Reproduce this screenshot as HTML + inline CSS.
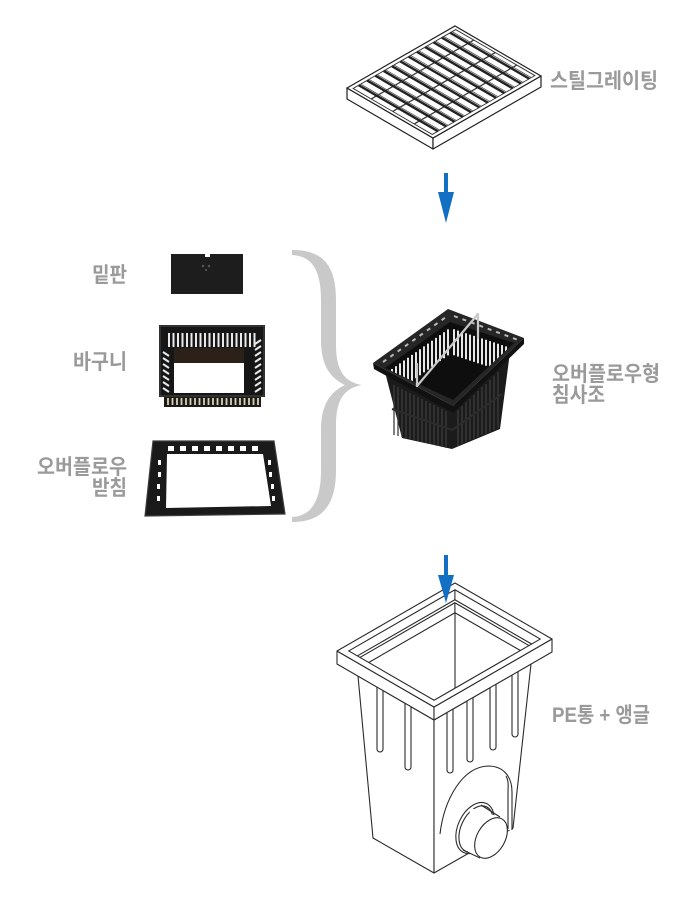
<!DOCTYPE html>
<html><head><meta charset="utf-8"><style>
html,body{margin:0;padding:0;background:#fff;}
svg{display:block;}
text{font-family:"Liberation Sans","Noto Sans CJK KR",sans-serif;font-weight:bold;fill:#9a9a9a;font-size:21px;}
.ns *{vector-effect:non-scaling-stroke;}
</style></head><body>
<svg width="700" height="900" viewBox="0 0 700 900" xmlns="http://www.w3.org/2000/svg">
<rect width="700" height="900" fill="#fff"/>

<!-- ===== Steel grating ===== -->
<g stroke="#222" stroke-width="1.2" fill="#fff" stroke-linejoin="round">
  <polygon points="347,88 433,138 433,149 347,99"/>
  <polygon points="433,138 541,76 541,87 433,149"/>
</g>
<g class="ns" transform="matrix(1.08,-0.62,0.86,0.5,347,88)" fill="none" stroke-linecap="butt">
  <rect x="0" y="0" width="100" height="100" fill="#fff" stroke="#222" stroke-width="1.2"/>
  <rect x="2.5" y="4" width="95" height="92" stroke="#333" stroke-width="0.9"/>
  <g stroke="#333" stroke-width="1.2">
    <line x1="2.5" y1="25" x2="97.5" y2="25"/>
    <line x1="2.5" y1="50" x2="97.5" y2="50"/>
    <line x1="2.5" y1="75" x2="97.5" y2="75"/>
  </g>
  <g stroke="#222" stroke-width="2.4">
    <line x1="7.69" y1="4" x2="7.69" y2="96"/>
    <line x1="15.38" y1="4" x2="15.38" y2="96"/>
    <line x1="23.08" y1="4" x2="23.08" y2="96"/>
    <line x1="30.77" y1="4" x2="30.77" y2="96"/>
    <line x1="38.46" y1="4" x2="38.46" y2="96"/>
    <line x1="46.15" y1="4" x2="46.15" y2="96"/>
    <line x1="53.85" y1="4" x2="53.85" y2="96"/>
    <line x1="61.54" y1="4" x2="61.54" y2="96"/>
    <line x1="69.23" y1="4" x2="69.23" y2="96"/>
    <line x1="76.92" y1="4" x2="76.92" y2="96"/>
    <line x1="84.62" y1="4" x2="84.62" y2="96"/>
    <line x1="92.31" y1="4" x2="92.31" y2="96"/>
  </g>
  <g stroke="#555" stroke-width="0.8">
    <line x1="9.5" y1="4" x2="9.5" y2="96"/>
    <line x1="17.2" y1="4" x2="17.2" y2="96"/>
    <line x1="24.9" y1="4" x2="24.9" y2="96"/>
    <line x1="32.6" y1="4" x2="32.6" y2="96"/>
    <line x1="40.3" y1="4" x2="40.3" y2="96"/>
    <line x1="48" y1="4" x2="48" y2="96"/>
    <line x1="55.7" y1="4" x2="55.7" y2="96"/>
    <line x1="63.4" y1="4" x2="63.4" y2="96"/>
    <line x1="71.1" y1="4" x2="71.1" y2="96"/>
    <line x1="78.8" y1="4" x2="78.8" y2="96"/>
    <line x1="86.5" y1="4" x2="86.5" y2="96"/>
    <line x1="94.2" y1="4" x2="94.2" y2="96"/>
  </g>
</g>
<text x="550" y="88" textLength="108" lengthAdjust="spacingAndGlyphs">스틸그레이팅</text>

<!-- arrow 1 -->
<rect x="444" y="173" width="4" height="20" fill="#1170c4"/>
<polygon points="438,192 454,192 446,223" fill="#1170c4"/>

<!-- ===== Left parts ===== -->
<text x="92" y="282" textLength="35" lengthAdjust="spacingAndGlyphs">밑판</text>
<text x="73" y="369" textLength="54" lengthAdjust="spacingAndGlyphs">바구니</text>
<text x="37" y="474" textLength="90" lengthAdjust="spacingAndGlyphs">오버플로우</text>
<text x="92" y="495" textLength="35" lengthAdjust="spacingAndGlyphs">받침</text>

<!-- bottom plate -->
<rect x="171" y="254" width="72" height="40" fill="#1d1d1d"/>
<rect x="205" y="254" width="5" height="3" fill="#fff"/>
<circle cx="203" cy="266" r="1.3" fill="#555"/>
<circle cx="209" cy="266" r="1.3" fill="#555"/>
<circle cx="206" cy="270" r="1.1" fill="#555"/>

<!-- basket -->
<rect x="159" y="325" width="106" height="72" fill="#161616"/>
<rect x="160" y="326" width="104" height="70" fill="none" stroke="#3a3a3a" stroke-width="1.5"/>
<rect x="174" y="348" width="70" height="15" fill="#2b2118"/>
<g stroke="#e9e9e9" stroke-width="2">
  <path d="M169,333v14M173.5,333v14M178,333v14M182.5,333v14M187,333v14M191.5,333v14M196,333v14M200.5,333v14M205,333v14M209.5,333v14M214,333v14M218.5,333v14M223,333v14M227.5,333v14M232,333v14M236.5,333v14M241,333v14M245.5,333v14M250,333v14M254.5,333v14"/>
  <path d="M163,352l6,4M163,358l6,4M163,364l6,4M163,370l6,4M163,376l6,4M163,382l6,4M163,388l6,4"/>
  <path d="M255,344l6,-4M255,350l6,-4M255,356l6,-4M255,362l6,-4M255,368l6,-4M255,374l6,-4M255,380l6,-4M255,386l6,-4M255,392l6,-4"/>
</g>
<rect x="174" y="363" width="70" height="30" fill="#fff"/>
<rect x="164" y="397" width="97" height="10" fill="#1e1a14"/>
<g stroke="#d8cfc0" stroke-width="1.8">
  <path d="M168,398v7M172.5,398v7M177,398v7M181.5,398v7M186,398v7M190.5,398v7M195,398v7M199.5,398v7M204,398v7M208.5,398v7M213,398v7M217.5,398v7M222,398v7M226.5,398v7M231,398v7M235.5,398v7M240,398v7M244.5,398v7M249,398v7M253.5,398v7M258,398v7"/>
</g>

<!-- overflow tray -->
<polygon points="153,441 274,441 285,514 145,516" fill="#1a1a1a"/>
<polygon points="153,441 274,441 285,514 145,516" fill="none" stroke="#3c3c3c" stroke-width="1.2"/>
<polygon points="167,454 263,454 271,506 166,508" fill="#fff"/>
<g fill="#fff">
  <rect x="168" y="446" width="6" height="5"/><rect x="180" y="446" width="6" height="5"/>
  <rect x="192" y="446" width="6" height="5"/><rect x="204" y="446" width="6" height="5"/>
  <rect x="216" y="446" width="6" height="5"/><rect x="228" y="446" width="6" height="5"/>
  <rect x="240" y="446" width="6" height="5"/><rect x="252" y="446" width="6" height="5"/>
  <rect x="158" y="460" width="3" height="5"/><rect x="158" y="472" width="3" height="5"/>
  <rect x="157" y="484" width="3" height="5"/><rect x="157" y="496" width="3" height="5"/>
  <rect x="268" y="460" width="3" height="5"/><rect x="269" y="472" width="3" height="5"/>
  <rect x="271" y="484" width="3" height="5"/><rect x="272" y="496" width="3" height="5"/>
</g>

<!-- brace -->
<path d="M292,250 C320,250 336,262 336,300 L336,345 C336,370 344,382 362,385 C344,388 336,400 336,425 L336,470 C336,508 320,522 292,522 L292,517 C312,516 321,500 321,470 L321,430 C321,405 330,392 345,385 C330,378 321,365 321,340 L321,300 C321,270 312,256 292,255 Z" fill="#c9c9c9"/>

<!-- ===== Middle basket (overflow sediment) ===== -->
<defs>
  <clipPath id="op"><polygon points="385,368 450,322 514,343 453,400"/></clipPath>
</defs>
<polygon points="385,372 453,406 510,352 500,429 452,449 402,438" fill="#1b1b1b"/>
<g stroke="#3c3c3c" stroke-width="1.3">
  <path d="M394,385v50M398,387v49M402,389v48M406,391v47M410,393v46M414,395v45M418,397v44M422,399v43M426,401v42M430,403v41M434,405v40M438,407v39M442,409v38M446,411v37"/>
  <path d="M458,410v36M462,406v38M466,402v40M470,399v41M474,395v44M478,391v46M482,387v48M486,384v50M490,380v52M494,376v54M498,372v56"/>
</g>
<path d="M392,409 L452,430 L502,394" fill="none" stroke="#2c2c2c" stroke-width="2"/>
<polygon points="373,363 453,406 524,338 524,344 453,413 374,369" fill="#111"/>
<polygon points="373,363 448,309 524,338 453,406" fill="#262626"/>
<polygon points="385,368 450,322 514,343 453,400" fill="#0e0e0e"/>
<g clip-path="url(#op)" stroke="#e8e8e8" stroke-width="2">
  <path d="M388,371.9v26M392,369v26M396,366.2v26M400,363.4v26M404,360.5v26M408,357.7v26M412,354.9v26M416,352.1v26M420,349.2v26M424,346.4v26M428,343.6v26M432,340.7v26M436,337.9v26M440,335.1v26M444,332.2v26M448,329.4v26"/>
  <path d="M454,329.3v26M458,330.6v26M462,331.9v26M466,333.2v26M470,334.6v26M474,335.9v26M478,337.2v26M482,338.5v26M486,339.8v26M490,341.1v26M494,342.4v26M498,343.7v26M502,345.1v24M506,346.4v22M510,347.7v20"/>
</g>
<line x1="383" y1="362" x2="446" y2="317" stroke="#b8b8b8" stroke-width="2" stroke-dasharray="4 5"/>
<line x1="454" y1="316" x2="518" y2="340" stroke="#b8b8b8" stroke-width="2" stroke-dasharray="4 5"/>
<g stroke="#c9c9c9" stroke-width="2.2" stroke-linecap="round">
  <line x1="417" y1="386" x2="478" y2="314"/>
  <line x1="478" y1="314" x2="478" y2="338"/>
  <line x1="417" y1="364" x2="417" y2="386"/>
</g>
<text x="552" y="381" textLength="108" lengthAdjust="spacingAndGlyphs">오버플로우형</text>
<text x="552" y="402" textLength="53" lengthAdjust="spacingAndGlyphs">침사조</text>

<!-- ===== PE tank ===== -->
<g stroke="#2a2a2a" stroke-width="1.1" fill="#fff" stroke-linejoin="round">
  <polygon points="358,676 434,720 434,873 373,838"/>
  <polygon points="434,720 531,664 513,828 434,873"/>
  <!-- ribs -->
  <path d="M377,684 V749 A3,3 0 0 0 383,749 V686"/>
  <path d="M405,700 V767 A3,3 0 0 0 411,767 V703"/>
  <path d="M447,712 V770 A3,3 0 0 0 453,770 V709"/>
  <path d="M467,700 V759 A3,3 0 0 0 473,759 V697"/>
  <path d="M490,687 V747 A3,3 0 0 0 496,747 V684"/>
  <path d="M512,674 V734 A3,3 0 0 0 518,734 V671"/>
  <!-- arch -->
  <path d="M440,834 C444,800 462,767 488,766 C503,766 512,776 512,792 L512,830"/>
  <path d="M506,776 C509,781 508,786 508,794 L508,829" fill="none"/>
  <!-- pipe collar -->
  <ellipse cx="475" cy="828" rx="17" ry="27" transform="rotate(25 475 828)"/>
  <ellipse cx="476" cy="829" rx="15" ry="24.5" transform="rotate(25 476 829)"/>
  <path d="M470,808 L500,817 L496,857 L468,853 Z" stroke="none"/>
  <line x1="481" y1="805" x2="500" y2="817"/>
  <line x1="463" y1="850" x2="480" y2="858"/>
  <ellipse cx="491" cy="838" rx="14" ry="22" transform="rotate(30 491 838)"/>
</g>
<!-- rim side faces -->
<g stroke="#2a2a2a" stroke-width="1.1" fill="#fff" stroke-linejoin="round">
  <polygon points="337,651 434,707 434,720 337,664"/>
  <polygon points="434,707 552,639 552,652 434,720"/>
</g>
<!-- rim top -->
<g class="ns" transform="matrix(1.18,-0.68,0.97,0.56,337,651)" stroke="#2a2a2a" stroke-width="1.1" fill="none" stroke-linejoin="round">
  <rect x="0" y="0" width="100" height="100" fill="#fff"/>
  <rect x="5" y="6" width="90" height="88"/>
  <polyline points="5,14.9 87.65,14.9 87.65,94"/>
  <polyline points="5,17.6 85.4,17.6 85.4,94"/>
  <polyline points="5,26.6 78.1,26.6 78.1,94"/>
  <line x1="95" y1="6" x2="87.65" y2="14.9"/>
  <line x1="85.4" y1="17.6" x2="78.1" y2="26.6"/>
</g>
<line x1="455" y1="613" x2="455" y2="688" stroke="#2a2a2a" stroke-width="1.1"/>
<text x="552" y="722" textLength="98" lengthAdjust="spacingAndGlyphs">PE통 + 앵글</text>

<!-- arrow 2 -->
<rect x="444" y="555" width="4" height="21" fill="#1170c4"/>
<polygon points="438,575 454,575 446,603" fill="#1170c4"/>
</svg>
</body></html>
